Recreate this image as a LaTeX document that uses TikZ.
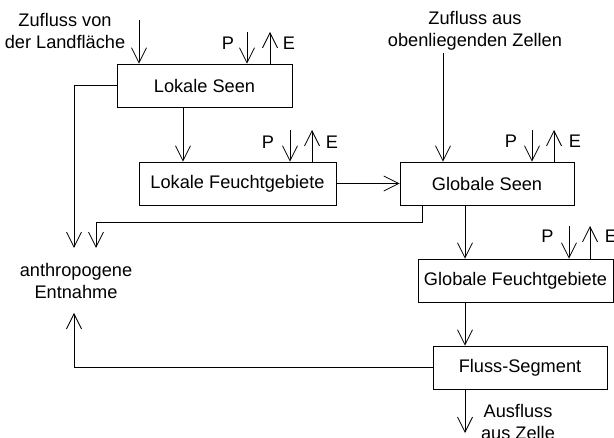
\documentclass[tikz,border=0pt]{standalone}
\usepackage{fontspec}
\setmainfont{Liberation Sans}
\usetikzlibrary{arrows.meta}
\begin{document}
\begin{tikzpicture}[x=1pt,y=-1pt,
  txt/.style={inner sep=0pt, align=center, font=\fontsize{18.2}{22.5}\selectfont},
  box/.style={draw, line width=0.8pt, minimum width=#1, minimum height=43pt, inner sep=0pt, font=\fontsize{18.2}{22.5}\selectfont},
  arr/.style={-{Straight Barb[length=15pt,width=15pt,line width=0.8pt]}, line width=0.8pt},
  ln/.style={line width=0.8pt}]
\useasboundingbox (0,0) rectangle (614,438);
% boxes
\node[box=175pt] (LS) at (204.5,85.5) {Lokale Seen};
\node[box=197pt] (LF) at (237.5,183.5) {Lokale Feuchtgebiete};
\node[box=174pt] (GS) at (487,183.5) {Globale Seen};
\node[box=195pt] (GF) at (515.5,280.5) {Globale Feuchtgebiete};
\node[box=174pt] (FS) at (520,367.5) {Fluss-Segment};
% texts
\node[txt] (tzl) at (65,31) {Zufluss von\\der Landfläche};
\node[txt] (tzo) at (475,31) {Zufluss aus\\obenliegenden Zellen};
\node[txt] (ent) at (76,281) {anthropogene\\Entnahme};
\node[txt] (aus) at (518,422) {Ausfluss\\aus Zelle};
\node[txt] (lsPt) at (228,43) {P};
\node[txt] (lsEt) at (289,43) {E};
\node[txt] (lfPt) at (268,142) {P};
\node[txt] (lfEt) at (332,142) {E};
\node[txt] (gsPt) at (511,141) {P};
\node[txt] (gsEt) at (575,141) {E};
\node[txt] (gfPt) at (547.5,236) {P};
\node[txt] (gfEt) at (611,236) {E};
% coordinates
\coordinate (zl) at (139,20);
\coordinate (zo) at (443,53);
\coordinate (lsP) at (247,32);
\coordinate (lsE) at (270,32);
\coordinate (lfP) at (290,130);
\coordinate (lfE) at (312,130);
\coordinate (gsP) at (532,130);
\coordinate (gsE) at (554,130);
\coordinate (gfP) at (569,226);
\coordinate (gfE) at (590,226);
\coordinate (c1) at (183,0);
\coordinate (c2) at (465,0);
\coordinate (g1) at (422,222);
\coordinate (e1) at (74,248);
\coordinate (e2) at (96,248);
\coordinate (e3) at (74,313);
\coordinate (ao) at (465,433);
% inflows
\draw[arr] (zl) -- (zl |- LS.north);
\draw[arr] (zo) -- (zo |- GS.north);
% P / E
\draw[arr] (lsP) -- (lsP |- LS.north);
\draw[arr] (lsE |- LS.north) -- (lsE);
\draw[arr] (lfP) -- (lfP |- LF.north);
\draw[arr] (lfE |- LF.north) -- (lfE);
\draw[arr] (gsP) -- (gsP |- GS.north);
\draw[arr] (gsE |- GS.north) -- (gsE);
\draw[arr] (gfP) -- (gfP |- GF.north);
\draw[arr] (gfE |- GF.north) -- (gfE);
% flows
\draw[arr] (c1 |- LS.south) -- (c1 |- LF.north);
\draw[arr] (LF.east) -- (LF.east -| GS.west);
\draw[arr] (c2 |- GS.south) -- (c2 |- GF.north);
\draw[arr] (c2 |- GF.south) -- (c2 |- FS.north);
\draw[arr] (ao |- FS.south) -- (ao);
% withdrawals
\draw[arr] (LS.west) -| (e1);
\draw[arr] (g1 |- GS.south) -- (g1) -| (e2);
\draw[arr] (FS.west) -| (e3);
\end{tikzpicture}
\end{document}
